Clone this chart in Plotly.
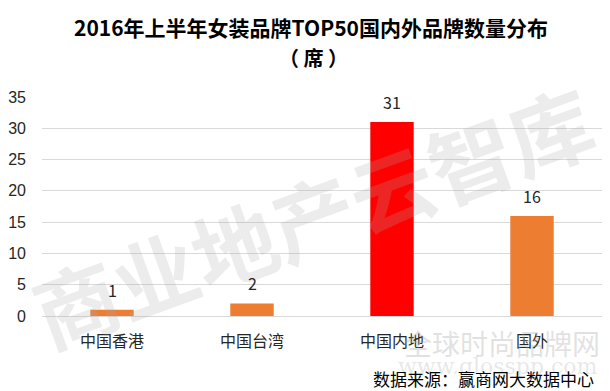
import plotly.graph_objects as go

categories = ["中国香港", "中国台湾", "中国内地", "国外"]
values = [1, 2, 31, 16]
bar_colors = ["#ED7D31", "#ED7D31", "#FF0000", "#ED7D31"]
y_ticks = [0, 5, 10, 15, 20, 25, 30, 35]

FONT = "Noto Sans CJK SC"

# Browser body has an 8px margin, so the figure is laid out 8px smaller
W, H = 602, 383
L, R, T, B = 34, 8, 89, 75
PW, PH = W - L - R, H - T - B


def px(x):
    return (x - L) / PW


def py(y):
    return (H - B - y) / PH


fig = go.Figure(go.Bar(
    x=categories, y=values,
    marker=dict(color=bar_colors, line=dict(width=0)),
    width=0.31,
))

value_labels = [
    dict(x=c, y=v, xref="x", yref="y", text=str(v), showarrow=False,
         yanchor="middle", yshift=20,
         font=dict(family=FONT, size=16, color="#262626"))
    for c, v in zip(categories, values)
]

fig.update_layout(
    width=W, height=H,
    margin=dict(l=L, r=R, t=T, b=B, autoexpand=False),
    paper_bgcolor="white", plot_bgcolor="white",
    showlegend=False,
    font=dict(family=FONT),
    xaxis=dict(showgrid=False, showline=True, linecolor="#D9D9D9", linewidth=1,
               ticks="", tickfont=dict(size=16, color="#262626"),
               ticklabelstandoff=11),
    yaxis=dict(range=[0, 35], tickvals=y_ticks, showgrid=True, gridcolor="#D9D9D9",
               zeroline=False, showline=False, ticks="",
               tickfont=dict(family="Liberation Sans", size=16, color="#262626"),
               ticklabelstandoff=15),
    annotations=[
        dict(text="<b>商业地产云智库</b>", x=px(304), y=py(206), xref="paper", yref="paper",
             showarrow=False, textangle=-20, xanchor="center", yanchor="middle",
             font=dict(family=FONT, size=84, color="rgba(170,170,170,0.22)")),
        dict(text="全球时尚品牌网", x=px(594), y=py(335), xref="paper", yref="paper",
             xanchor="right", yanchor="middle", showarrow=False,
             font=dict(family=FONT, size=28, color="rgba(170,170,170,0.35)")),
        dict(text="www.glosspp.com", x=px(592), y=py(358), xref="paper", yref="paper",
             xanchor="right", yanchor="middle", showarrow=False,
             font=dict(family="DejaVu Serif", size=22, color="rgba(170,170,170,0.28)")),
        dict(text="<b>2016年上半年女装品牌TOP50国内外品牌数量分布</b>", x=px(303), y=py(19),
             xref="paper", yref="paper", showarrow=False, xanchor="center", yanchor="middle",
             font=dict(family=FONT, size=21, color="#000000")),
        dict(text="<b>（ 席 ）</b>", x=px(305), y=py(50), xref="paper", yref="paper",
             showarrow=False, xanchor="center", yanchor="middle",
             font=dict(family=FONT, size=20, color="#000000")),
        dict(text="数据来源：赢商网大数据中心", x=px(588), y=py(370), xref="paper", yref="paper",
             xanchor="right", yanchor="middle", showarrow=False,
             font=dict(family=FONT, size=17, color="#000000")),
    ] + value_labels,
)

fig.write_html("out.html")
